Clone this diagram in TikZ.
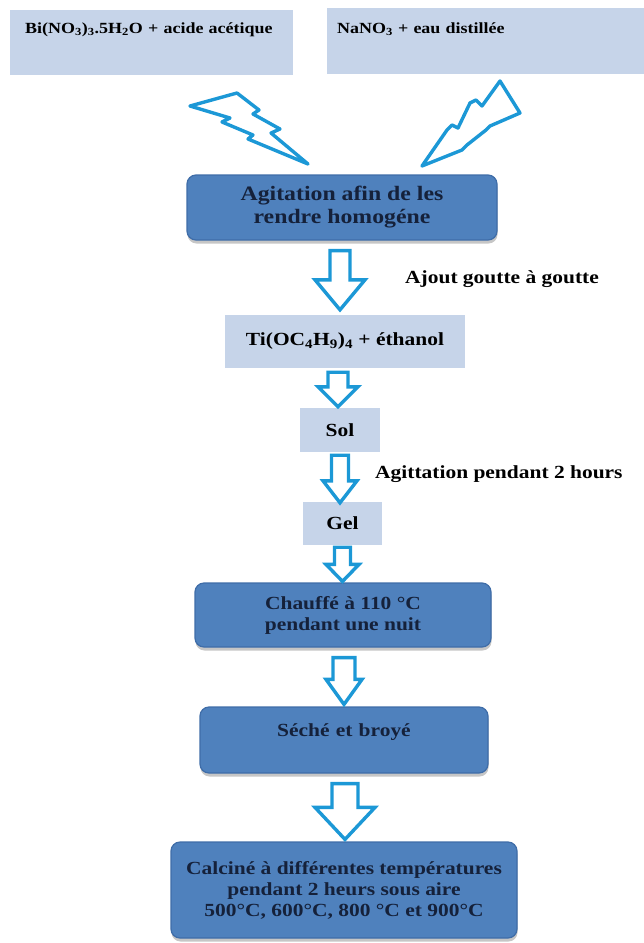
\documentclass[tikz,border=0pt]{standalone}
\usepackage{fontspec}
\setmainfont[FakeStretch=1.16]{Liberation Serif}
\usetikzlibrary{calc,shadows}

\definecolor{paleblue}{HTML}{C6D4E9}
\definecolor{stepblue}{HTML}{4F81BD}
\definecolor{stepedge}{HTML}{3F6DA8}
\definecolor{navytext}{HTML}{15213A}
\definecolor{boltblue}{HTML}{1C98D6}

\tikzset{
  txt/.style={font=\fontsize{18.5}{21}\selectfont\bfseries},
  smalltxt/.style={font=\fontsize{15.5}{18}\selectfont\bfseries},
  reagent/.style={fill=paleblue, draw=none, inner sep=0pt},
  stepbox/.style={txt, fill=stepblue, draw=stepedge, line width=1.2pt,
    rounded corners=9pt, text=navytext, align=center, inner sep=0pt,
    drop shadow={shadow xshift=0.5pt, shadow yshift=-3.5pt, opacity=0.45}},
  bolt/.style={draw=boltblue, fill=white, line width=3.4pt, line join=round},
  blockarr/.style={draw=boltblue, fill=white, line width=3.4pt, line join=miter},
}

% hollow block arrow from below #1 to above #2
% #3 half shaft width, #4 half head width, #5 head length,
% #6 x offset, #7 top gap, #8 bottom gap
\newcommand\blockarrow[8]{%
  \draw[blockarr] let \p1=($(#1.south)+(#6,#7)$), \p2=($(#2.north)+(0,-#8)$) in
    (\x1-#3pt,\y1) -- (\x1+#3pt,\y1) -- (\x1+#3pt,\y2+#5pt) --
    (\x1+#4pt,\y2+#5pt) -- (\x1,\y2) -- (\x1-#4pt,\y2+#5pt) --
    (\x1-#3pt,\y2+#5pt) -- cycle;}

\begin{document}
\begin{tikzpicture}[x=1pt, y=-1pt]
\useasboundingbox (0,0) rectangle (644,943);

% starting solutions
\node[reagent, smalltxt, anchor=north west, text width=253pt, align=left,
  inner xsep=15pt, text height=16pt, text depth=35pt, inner ysep=7pt]
  (bi) at (10,10) {Bi(NO\textsubscript{3})\textsubscript{3}.5H\textsubscript{2}O + acide acétique};
\node[reagent, smalltxt, anchor=north west, text width=310pt, align=left,
  inner xsep=10pt, text height=18pt, text depth=34pt, inner ysep=7pt]
  (na) at (327,8) {NaNO\textsubscript{3} + eau distillée};

% lightning bolts
\draw[bolt] (190,106) -- (237,93) -- (259,110) -- (253,114) -- (280,129)
  -- (271,133) -- (308,164) -- (248,139) -- (253,135) -- (222,122)
  -- (230,118) -- cycle;
\draw[bolt] (500,81) -- (520,113) -- (490,126) -- (486,130)
  -- (467,145) -- (462,150) -- (422,166) -- (447,130)
  -- (452,125) -- (458,128) -- (470,103) -- (476,100) -- (482,106) -- cycle;

% process steps
\node[stepbox, font=\fontsize{20.5}{23}\selectfont\bfseries,
  minimum width=310pt, minimum height=65pt] (agit) at (342,207.5)
  {Agitation afin de les\\rendre homogéne};
\node[reagent, txt, minimum width=240pt, minimum height=53pt] (ti) at (345,341.5)
  {Ti(OC\textsubscript{4}H\textsubscript{9})\textsubscript{4} + éthanol};
\node[reagent, txt, minimum width=80pt, minimum height=44pt] (sol) at (340,430) {Sol};
\node[reagent, txt, minimum width=79pt, minimum height=43pt] (gel) at (342.5,523.5) {Gel};
\node[stepbox, minimum width=296pt, minimum height=64pt] (chauf) at (343,615)
  {Chauffé à 110 °C\\pendant une nuit};
\node[stepbox, minimum width=288pt, text height=29pt, text depth=37pt,
  text width=288pt] (seche) at (344,740) {Séché et broyé};
\node[stepbox, minimum width=346pt, minimum height=96pt] (calc) at (344,890)
  {Calciné à différentes températures\\pendant 2 heurs sous aire\\
   500°C, 600°C, 800 °C et 900°C};

% side notes
\node[txt, anchor=west, inner sep=0pt] (ajout) at (405,279) {Ajout goutte à goutte};
\node[txt, anchor=west, inner sep=0pt] (agitt) at (375,474) {Agittation pendant 2 hours};

% block arrows between the steps
\blockarrow{agit}{ti}{10}{25}{30}{-2}{10}{5}
\blockarrow{ti}{sol}{10}{20}{20}{-7}{4}{1}
\blockarrow{sol}{gel}{8.5}{17}{22}{0}{3}{-1}
\blockarrow{gel}{chauf}{8}{16.5}{17}{0}{2}{1}
\blockarrow{chauf}{seche}{11}{18}{25}{1}{10}{2}
\blockarrow{seche}{calc}{13}{30}{32}{1}{10}{2}
\end{tikzpicture}
\end{document}
